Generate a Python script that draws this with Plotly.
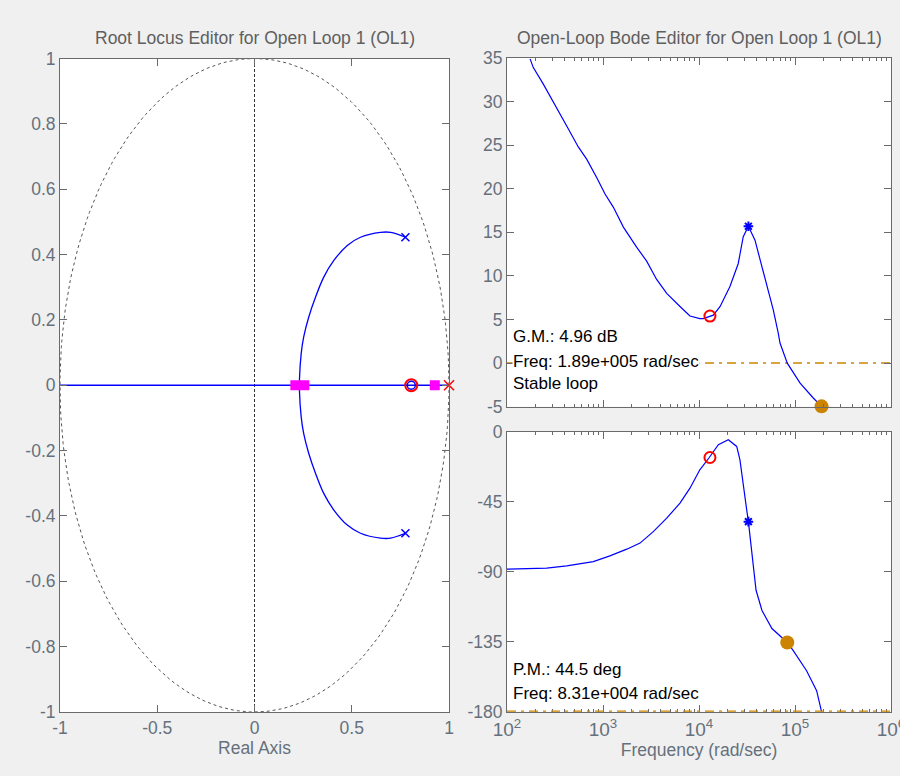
import plotly.graph_objects as go
import numpy as np

# ---------------- data ----------------
# Root locus (z-plane)
rl_arc_re = [0.776, 0.700, 0.648, 0.545, 0.477, 0.408, 0.356, 0.314, 0.279, 0.253, 0.240, 0.231, 0.231]
rl_arc_im = [0.453, 0.468, 0.468, 0.453, 0.428, 0.382, 0.331, 0.270, 0.209, 0.148, 0.097, 0.015, 0.0]
rl_real_axis = [-1.0, 1.0]
ol_poles_re = [0.776, 0.776]
ol_poles_im = [0.453, -0.453]
comp_pole = [1.0]
comp_zero = [0.806]
cl_poles = [0.210, 0.256, 0.927]

# Bode magnitude
mag_freq = [174, 188, 239, 330, 419, 553, 676, 859, 1050, 1280, 1630, 2240, 2850, 3620, 4610,
            6340, 8050, 10200, 11100, 14100, 16600, 21000, 25600, 28900, 32700, 38300, 46800,
            59400, 67000, 69800, 83100, 113000, 155000, 189000]
mag_db = [34.9, 33.9, 32.0, 29.3, 27.2, 24.8, 23.4, 21.3, 19.4, 17.9, 15.6, 13.3, 11.7, 9.6, 8.0,
          6.5, 5.4, 5.1, 5.1, 5.5, 6.5, 8.8, 11.4, 14.5, 15.7, 14.1, 10.3,
          6.1, 3.4, 2.3, 0.0, -2.3, -4.0, -4.96]

# Bode phase
ph_freq = [100, 259, 419, 793, 1180, 1770, 2430, 3340, 4610, 6340, 8050, 10200, 12800, 15900,
           20200, 24700, 26700, 28900, 31400, 32700, 35400, 39300, 45300, 57500, 83100, 95900,
           132000, 168000, 189000]
ph_deg = [-88.4, -87.8, -86.3, -83.6, -79.9, -75.6, -71.7, -64.3, -55.7, -46.0, -36.4, -24.6, -16.7, -8.5,
          -5.3, -9.6, -18.2, -35.4, -50.3, -57.9, -76.0, -102.0, -115.0, -126.6, -135.5, -140.8,
          -153.7, -166.5, -180.0]

comp_zero_freq = [13000]
comp_zero_mag = [5.4]
comp_zero_ph = [-16.7]
plant_pole_freq = [32700]
plant_pole_mag = [15.7]
plant_pole_ph = [-57.9]

gm_db = 4.96
gm_freq = 189000
pm_deg = 44.5
pm_freq = 83100
nyquist_freq = 190000

rl_xticks = [-1, -0.5, 0, 0.5, 1]
rl_yticks = [-1, -0.8, -0.6, -0.4, -0.2, 0, 0.2, 0.4, 0.6, 0.8, 1]
mag_ticks = [-5, 0, 5, 10, 15, 20, 25, 30, 35]
ph_ticks = [-180, -135, -90, -45, 0]
freq_ticks = [1e2, 1e3, 1e4, 1e5, 1e6]
freq_ticktext = ["10<sup>2</sup>", "10<sup>3</sup>", "10<sup>4</sup>", "10<sup>5</sup>", "10<sup>6</sup>"]

# ---------------- style ----------------
BLUE = "#0000ff"
RED = "#ff0000"
MAG = "#ff00ff"
ORANGE = "#cc8400"
AXC = "#6a6a6a"
TICKC = "#66707c"
FONT = "Liberation Sans"
FS = 17.5

fig = go.Figure()

# unit circle (dashed)
th = np.linspace(0, 2 * np.pi, 300)
fig.add_trace(go.Scatter(x=np.cos(th), y=np.sin(th), mode="lines",
                         line=dict(color="#555555", width=1, dash="3px,3px"),
                         xaxis="x", yaxis="y", hoverinfo="skip"))
# real axis locus
fig.add_trace(go.Scatter(x=rl_real_axis, y=[0, 0], mode="lines",
                         line=dict(color=BLUE, width=1.3), xaxis="x", yaxis="y"))
# complex branches
fig.add_trace(go.Scatter(x=rl_arc_re, y=rl_arc_im, mode="lines", line=dict(color=BLUE, width=1.3),
                         line_shape="spline", xaxis="x", yaxis="y"))
fig.add_trace(go.Scatter(x=rl_arc_re, y=[-v for v in rl_arc_im], mode="lines",
                         line=dict(color=BLUE, width=1.3), line_shape="spline", xaxis="x", yaxis="y"))
# markers
fig.add_trace(go.Scatter(x=ol_poles_re, y=ol_poles_im, mode="markers",
                         marker=dict(symbol="x-thin-open", size=8, color=BLUE, line=dict(color=BLUE, width=1.5)),
                         xaxis="x", yaxis="y"))
fig.add_trace(go.Scatter(x=cl_poles, y=[0] * len(cl_poles), mode="markers",
                         marker=dict(symbol="square", size=10, color=MAG, line=dict(width=0)),
                         xaxis="x", yaxis="y"))
fig.add_trace(go.Scatter(x=comp_zero, y=[0], mode="markers",
                         marker=dict(symbol="circle-open", size=12, color=RED, line=dict(color=RED, width=2)),
                         xaxis="x", yaxis="y"))
fig.add_trace(go.Scatter(x=comp_zero, y=[0], mode="markers",
                         marker=dict(symbol="circle-open", size=8, color=BLUE, line=dict(color=BLUE, width=1.5)),
                         xaxis="x", yaxis="y"))
fig.add_trace(go.Scatter(x=comp_pole, y=[0], mode="markers",
                         marker=dict(symbol="x-thin-open", size=10, color=RED, line=dict(color=RED, width=1.5)),
                         xaxis="x", yaxis="y", cliponaxis=False))

# Bode magnitude
fig.add_trace(go.Scatter(x=mag_freq, y=mag_db, mode="lines", line=dict(color=BLUE, width=1.2),
                         xaxis="x2", yaxis="y2"))
fig.add_trace(go.Scatter(x=comp_zero_freq, y=comp_zero_mag, mode="markers",
                         marker=dict(symbol="circle-open", size=11, color=RED, line=dict(color=RED, width=2)),
                         xaxis="x2", yaxis="y2"))
fig.add_trace(go.Scatter(x=plant_pole_freq, y=plant_pole_mag, mode="markers",
                         marker=dict(symbol="asterisk-open", size=8, color=BLUE, line=dict(color=BLUE, width=2)),
                         xaxis="x2", yaxis="y2"))
fig.add_trace(go.Scatter(x=[gm_freq], y=[-gm_db], mode="markers",
                         marker=dict(symbol="circle", size=14, color=ORANGE),
                         xaxis="x2", yaxis="y2", cliponaxis=False))

# Bode phase
fig.add_trace(go.Scatter(x=ph_freq, y=ph_deg, mode="lines", line=dict(color=BLUE, width=1.2),
                         xaxis="x3", yaxis="y3"))
fig.add_trace(go.Scatter(x=comp_zero_freq, y=comp_zero_ph, mode="markers",
                         marker=dict(symbol="circle-open", size=11, color=RED, line=dict(color=RED, width=2)),
                         xaxis="x3", yaxis="y3"))
fig.add_trace(go.Scatter(x=plant_pole_freq, y=plant_pole_ph, mode="markers",
                         marker=dict(symbol="asterisk-open", size=8, color=BLUE, line=dict(color=BLUE, width=2)),
                         xaxis="x3", yaxis="y3"))
fig.add_trace(go.Scatter(x=[pm_freq], y=[-180 + pm_deg], mode="markers",
                         marker=dict(symbol="circle", size=14, color=ORANGE),
                         xaxis="x3", yaxis="y3"))

shapes = [
    # root locus imaginary axis (dashed)
    dict(type="line", xref="x", yref="y domain", x0=0, x1=0, y0=0, y1=1,
         line=dict(color="#333333", width=1, dash="3px,2px"), layer="below"),
    # 0 dB line
    dict(type="line", xref="x2 domain", yref="y2", x0=0, x1=1, y0=0, y1=0,
         line=dict(color=ORANGE, width=1.5, dash="9px,5px,3px,5px"), layer="below"),
    # -180 line
    dict(type="line", xref="x3 domain", yref="y3", x0=0, x1=1, y0=-180, y1=-180,
         line=dict(color=ORANGE, width=2.5, dash="9px,5px,3px,5px")),
    # Nyquist lines
    dict(type="line", xref="x2", yref="y2 domain", x0=np.log10(nyquist_freq), x1=np.log10(nyquist_freq),
         y0=0, y1=1, line=dict(color="black", width=1.3), layer="below"),
    dict(type="line", xref="x3", yref="y3 domain", x0=np.log10(nyquist_freq), x1=np.log10(nyquist_freq),
         y0=0, y1=1, line=dict(color="black", width=1.3), layer="below"),
    # GM stem
    dict(type="line", xref="x2", yref="y2", x0=np.log10(gm_freq), x1=np.log10(gm_freq),
         y0=0, y1=-gm_db, line=dict(color=ORANGE, width=1.5)),
    # PM stem
    dict(type="line", xref="x3", yref="y3", x0=np.log10(pm_freq), x1=np.log10(pm_freq),
         y0=-180, y1=-180 + pm_deg, line=dict(color=ORANGE, width=1.5)),
]

axis_common = dict(showline=True, linecolor=AXC, linewidth=1, mirror="ticks", ticks="inside",
                   ticklen=7, tickcolor=AXC, showgrid=False, zeroline=False, automargin=False,
                   ticklabeloverflow="allow",
                   tickfont=dict(family=FONT, size=FS, color=TICKC))

minor_vals = [m * 10 ** e for e in range(2, 6) for m in range(2, 10)]

XD_RL = [60 / 900, 449 / 900]
YD_RL = [1 - 712 / 776, 1 - 58.5 / 776]
XD_B = [507 / 900, 891 / 900]
YD_MAG = [1 - 406.7 / 776, 1 - 58 / 776]
YD_PH = [1 - 711.7 / 776, 1 - 431.5 / 776]

fig.update_layout(
    width=900, height=776,
    margin=dict(l=0, r=0, t=0, b=0, pad=0, autoexpand=False),
    paper_bgcolor="#f0f0f0", plot_bgcolor="white",
    showlegend=False,
    font=dict(family=FONT, size=FS, color="black"),
    xaxis=dict(axis_common, domain=XD_RL, range=[-1, 1], anchor="y",
               tickmode="array", tickvals=rl_xticks, ticktext=[("%g" % v) for v in rl_xticks],
               title=dict(text="Real Axis", font=dict(family=FONT, size=FS, color=TICKC), standoff=4)),
    yaxis=dict(axis_common, domain=YD_RL, range=[-1, 1], anchor="x",
               tickmode="array", tickvals=rl_yticks, ticktext=[("%g" % v) for v in rl_yticks]),
    xaxis2=dict(axis_common, domain=XD_B, type="log", range=[2, 6], anchor="y2",
                tickmode="array", tickvals=freq_ticks, showticklabels=False,
                minor=dict(ticks="inside", ticklen=3, tickcolor=AXC, tickmode="array", tickvals=minor_vals)),
    yaxis2=dict(axis_common, domain=YD_MAG, range=[-5, 35], anchor="x2",
                tickmode="array", tickvals=mag_ticks, ticktext=[str(v) for v in mag_ticks]),
    xaxis3=dict(axis_common, domain=XD_B, type="log", range=[2, 6], anchor="y3",
                tickmode="array", tickvals=freq_ticks, ticktext=freq_ticktext,
                minor=dict(ticks="inside", ticklen=3, tickcolor=AXC, tickmode="array", tickvals=minor_vals),
                tickfont=dict(family=FONT, size=19, color=TICKC),
                title=dict(text="Frequency (rad/sec)", font=dict(family=FONT, size=FS, color=TICKC), standoff=2)),
    yaxis3=dict(axis_common, domain=YD_PH, range=[-180, 0], anchor="x3",
                tickmode="array", tickvals=ph_ticks, ticktext=[str(v) for v in ph_ticks]),
    shapes=shapes,
)

TITLE_Y = 1 - 38 / 776
annotations = [
    dict(text="Root Locus Editor for Open Loop 1 (OL1)", x=(XD_RL[0] + XD_RL[1]) / 2, y=TITLE_Y,
         xref="paper", yref="paper", showarrow=False, xanchor="center", yanchor="middle",
         font=dict(family=FONT, size=FS, color="#5f5f5f")),
    dict(text="Open-Loop Bode Editor for Open Loop 1 (OL1)", x=(XD_B[0] + XD_B[1]) / 2, y=TITLE_Y,
         xref="paper", yref="paper", showarrow=False, xanchor="center", yanchor="middle",
         font=dict(family=FONT, size=FS, color="#5f5f5f")),
]
TX = XD_B[0] + 5 / 900
for txt, ypx, bg in [("G.M.: %.2f dB" % gm_db, 336, None),
                     ("Freq: 1.89e+005 rad/sec", 361, "white"),
                     ("Stable loop", 383, None),
                     ("P.M.: %.1f deg" % pm_deg, 669, None),
                     ("Freq: 8.31e+004 rad/sec", 693, None)]:
    a = dict(text=txt, x=TX, y=1 - ypx / 776, xref="paper", yref="paper", showarrow=False,
             xanchor="left", yanchor="middle", font=dict(family=FONT, size=17, color="black"),
             borderpad=0)
    if bg:
        a["bgcolor"] = bg
    annotations.append(a)
fig.update_layout(annotations=annotations)

fig.write_html("out.html", config={"displayModeBar": False},
               post_script="document.body.style.margin='0px';document.body.style.overflow='hidden';")
